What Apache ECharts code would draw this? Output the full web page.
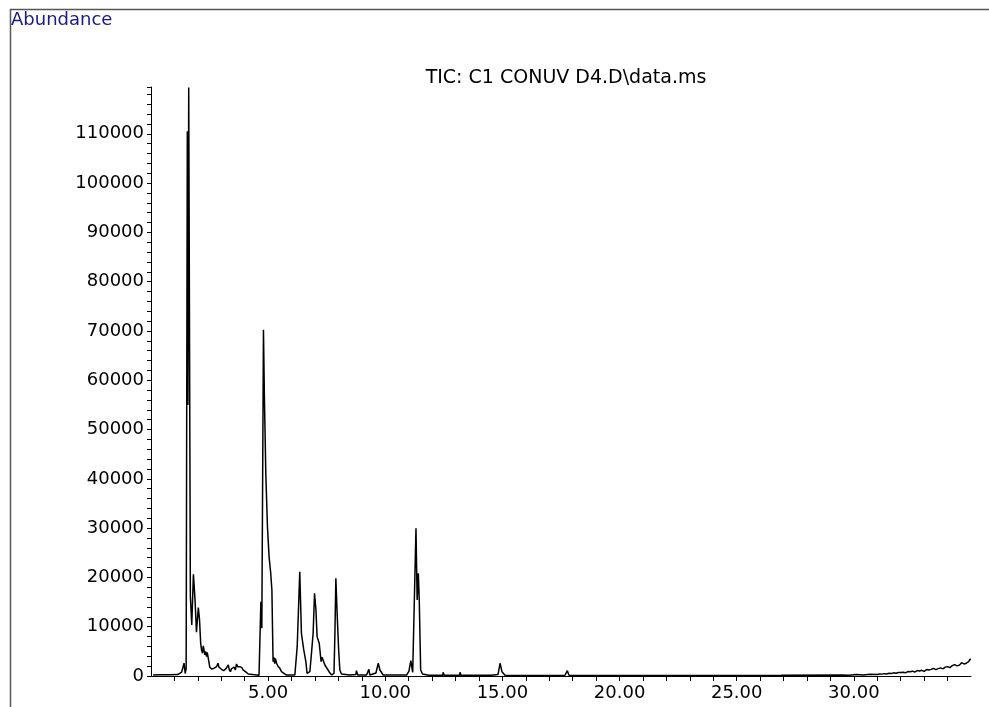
<!DOCTYPE html>
<html>
<head>
<meta charset="utf-8">
<script src="https://cdn.jsdelivr.net/npm/echarts@6/dist/echarts.min.js"></script>
<style>
  html, body { margin: 0; padding: 0; background: #fff; }
  #chart { width: 989px; height: 707px; }
</style>
</head>
<body>
<div id="chart"></div>
<script>
// retention time (min) and abundance
var retTime = [
  0.09, 0.4, 0.8, 1.14, 1.31, 1.41, 1.46, 1.50, 1.55, 1.575, 1.61,
  1.68, 1.74, 1.81, 1.88, 1.94, 2.02, 2.07, 2.12, 2.16, 2.20, 2.23, 2.26,
  2.30, 2.33, 2.37, 2.40, 2.43, 2.47, 2.51, 2.56, 2.60, 2.65, 2.70, 2.75,
  2.80, 2.86, 2.90, 2.95, 3.01, 3.06, 3.10, 3.15, 3.20, 3.25, 3.30, 3.34,
  3.39, 3.44, 3.50, 3.55, 3.60, 3.65, 3.70, 3.74, 3.79, 3.84, 3.88, 3.93,
  3.98, 4.03, 4.08, 4.15, 4.22, 4.61, 4.69, 4.73, 4.80, 4.84, 4.90, 4.97,
  5.04, 5.11, 5.16, 5.19, 5.21, 5.25, 5.28, 5.31, 5.36, 5.42, 5.50, 5.57,
  5.64, 5.78, 6.14, 6.24, 6.35, 6.42, 6.52, 6.61, 6.66, 6.78, 6.85, 6.92,
  6.98, 7.04, 7.09, 7.18, 7.26, 7.30, 7.35, 7.42, 7.46, 7.49, 7.60, 7.71,
  7.81, 7.85, 7.89, 7.95, 8.01, 8.06, 8.13, 8.49, 8.74, 8.77, 8.82, 9.20,
  9.27, 9.30, 9.34, 9.60, 9.70, 9.77, 9.91, 10.91, 11.01, 11.09, 11.17,
  11.23, 11.31, 11.36, 11.41, 11.45, 11.51, 11.59, 11.86, 11.88, 11.92,
  12.45, 12.47, 12.51, 13.17, 13.19, 13.23, 14.52, 14.54, 14.58, 14.81,
  14.90, 14.98, 15.11, 16.10, 16.12, 16.16, 17.10, 17.12, 17.16, 17.67,
  17.77, 17.84, 19.2, 21.5, 21.52, 21.56, 23.4, 26.9, 29.5, 29.8, 30.1,
  30.4, 30.7, 31.0, 31.1, 31.2, 31.3, 31.4, 31.5, 31.6, 31.7, 31.8, 31.9,
  32.0, 32.1, 32.2, 32.3, 32.4, 32.5, 32.6, 32.7, 32.8, 32.9, 33.0, 33.1,
  33.2, 33.3, 33.4, 33.5, 33.6, 33.7, 33.8, 33.9, 34.0, 34.1, 34.2, 34.3,
  34.4, 34.5, 34.6, 34.7, 34.8, 34.9, 34.95, 35.0
];
var abundance = [
  200, 250, 250, 300, 800, 2600, 500, 1500, 110500, 55000, 119400,
  16100, 10350, 20650, 15400, 8870, 13870, 11500, 6640, 5200, 4610, 6100, 5950,
  4300, 5000, 3920, 4800, 4610, 2900, 1770, 2100, 1400, 1220, 1600, 1300,
  1900, 2580, 1800, 2000, 1360, 1600, 1100, 1220, 1500, 1200, 2230, 1300,
  870, 1500, 1360, 1800, 1200, 2440, 1900, 2300, 1890, 1500, 1700, 1220,
  1000, 900, 670, 400, 260, 140, 15080, 9680, 70240, 56700, 41150, 30310,
  24220, 20850, 17460, 8670, 2910, 3800, 2500, 3590, 2580, 2000, 1560, 900,
  550, 200, 200, 5950, 21170, 8670, 5280, 2910, 550, 870, 4610, 8670,
  16790, 13400, 7980, 6640, 2910, 3800, 3590, 2230, 2600, 1890, 870, 200,
  550, 8670, 19830, 12040, 5280, 1220, 400, 200, 300, 1080, 200, 200,
  300, 1360, 200, 600, 2580, 1220, 200, 200, 1000, 3110, 750,
  800, 29980, 15420, 20850, 15420, 1220, 400, 150, 550, 150,
  150, 750, 150, 150, 750, 150, 150, 400, 150, 300,
  2580, 870, 150, 100, 500, 100, 100, 400, 100, 150,
  1080, 150, 100, 100, 400, 100, 120, 150, 200, 150, 300,
  220, 350, 300, 420, 380, 480, 420, 560, 500, 640, 560, 720,
  700, 780, 650, 900, 850, 980, 800, 1100, 1000, 1150, 950, 1300,
  1200, 1350, 1550, 1300, 1500, 1650, 1450, 1800, 1900, 1700, 2100, 2300,
  2050, 2200, 2700, 2450, 2600, 2900, 3400, 3300
];
var xLabelTimes = [5, 10, 15, 20, 25, 30];
var yLabelValues = [0, 10000, 20000, 30000, 40000, 50000, 60000, 70000, 80000, 90000, 100000, 110000];

var points = retTime.map(function (t, i) { return [t, abundance[i]]; });

var chart = echarts.init(document.getElementById('chart'));
chart.setOption({
    animation: false,
    backgroundColor: '#fff',
    textStyle: { fontFamily: 'DejaVu Sans' },
    grid: { left: 151, right: 18, top: 87, bottom: 31 },
    xAxis: {
        type: 'value',
        min: 0,
        max: 35,
        interval: 1,
        axisLine: { lineStyle: { color: '#000', width: 1 } },
        axisTick: { length: 5, lineStyle: { color: '#000' } },
        splitLine: { show: false },
        axisLabel: {
            margin: 8,
            color: '#000',
            fontSize: 18,
            fontFamily: 'DejaVu Sans',
            showMinLabel: false,
            showMaxLabel: false,
            formatter: function (v) {
                return xLabelTimes.indexOf(v) >= 0 ? v.toFixed(2) : '';
            }
        }
    },
    yAxis: {
        type: 'value',
        min: 0,
        max: 119500,
        interval: 2000,
        axisLine: { show: true, lineStyle: { color: '#000', width: 1 } },
        axisTick: { show: true, length: 4, lineStyle: { color: '#000' } },
        splitLine: { show: false },
        axisLabel: {
            margin: 7,
            color: '#000',
            fontSize: 18,
            fontFamily: 'DejaVu Sans',
            formatter: function (v) {
                return yLabelValues.indexOf(v) >= 0 ? String(v) : '';
            }
        }
    },
    series: [{
        type: 'line',
        data: points,
        showSymbol: false,
        lineStyle: { color: '#000', width: 1.5 },
        clip: true
    }],
    graphic: [
        { type: 'line', shape: { x1: 10, y1: 9.5, x2: 989, y2: 9.5 }, style: { stroke: '#555', lineWidth: 1.5 } },
        { type: 'line', shape: { x1: 10.5, y1: 9, x2: 10.5, y2: 707 }, style: { stroke: '#555', lineWidth: 1.5 } },
        { type: 'text', left: 11, top: 11, style: { text: 'Abundance', fill: '#1a1a88', font: '18px "DejaVu Sans"' } },
        { type: 'text', x: 566, y: 78, style: { text: 'TIC: C1 CONUV D4.D\\data.ms', fill: '#000', font: '19px "DejaVu Sans"', textAlign: 'center', textVerticalAlign: 'middle' } }
    ]
});
</script>
</body>
</html>
